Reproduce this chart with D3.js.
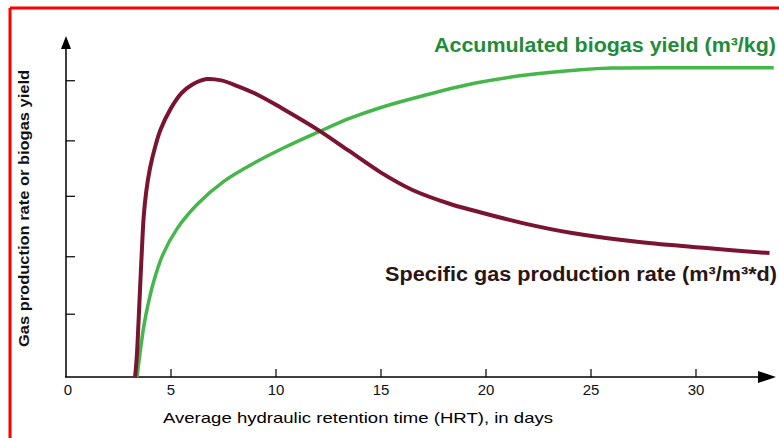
<!DOCTYPE html>
<html>
<head>
<meta charset="utf-8">
<script src="https://cdn.jsdelivr.net/npm/d3@7"></script>
<style>
  body { margin: 0; background: #fff; }
  svg { display: block; font-family: "Liberation Sans", Arial, sans-serif; }
</style>
</head>
<body>
<svg id="chart"></svg>
<script>
// Values (x in days, y in arbitrary units 0..10)
const xTicks = [0, 5, 10, 15, 20, 25, 30];
const yTicks = [1.88, 3.6, 5.41, 7.07, 8.87];

const rateDays = [3.29, 3.37, 3.45, 3.53, 3.61, 3.7, 3.82, 4.0, 4.25, 4.5, 5.0, 5.5, 6.0, 6.7, 7.4, 8.2, 9.1, 10.3, 12, 13.5, 15, 16.5, 18.3, 19.5, 21.8, 24.1, 27.3, 30.5, 33.5];
const rateValues = [0, 0.6, 1.6, 2.7, 3.75, 4.8, 5.55, 6.25, 6.9, 7.4, 8.05, 8.5, 8.75, 8.92, 8.88, 8.7, 8.46, 8.04, 7.4, 6.76, 6.12, 5.6, 5.18, 4.97, 4.6, 4.31, 4.04, 3.86, 3.71];

const yieldDays = [3.38, 3.5, 3.7, 3.9, 4.15, 4.6, 5.3, 6.3, 7.5, 9, 10.5, 12, 13.5, 15, 17, 19.5, 22, 24.5, 26, 30, 33.7];
const yieldValues = [0, 0.6, 1.5, 2.15, 2.8, 3.65, 4.45, 5.2, 5.85, 6.42, 6.9, 7.33, 7.74, 8.07, 8.42, 8.8, 9.05, 9.2, 9.25, 9.26, 9.26];

const width = 779;
const height = 438;

const svg = d3.select("#chart")
    .attr("width", width)
    .attr("height", height);

// red frame, only top and left edges show
svg.append("line").attr("x1", 10).attr("y1", 8).attr("x2", width).attr("y2", 8)
    .attr("stroke", "#ff0000").attr("stroke-width", 3);
svg.append("line").attr("x1", 10).attr("y1", 8).attr("x2", 10).attr("y2", height)
    .attr("stroke", "#ff0000").attr("stroke-width", 3);

const x = d3.scaleLinear().domain([0, 30]).range([66, 696]);
const y = d3.scaleLinear().domain([0, 10]).range([377, 43]);

// axes lines + arrows
svg.append("line").attr("x1", 66).attr("y1", 377).attr("x2", 66).attr("y2", 46)
    .attr("stroke", "#000").attr("stroke-width", 1.5);
svg.append("line").attr("x1", 65).attr("y1", 377).attr("x2", 760).attr("y2", 377)
    .attr("stroke", "#000").attr("stroke-width", 1.5);
svg.append("path").attr("d", "M66,36 L71,49 L61,49 Z").attr("fill", "#000");
svg.append("path").attr("d", "M776,377 L758,371 L758,383 Z").attr("fill", "#000");

// x ticks (pointing up) and labels
svg.append("g").selectAll("line")
    .data(xTicks.slice(1))
    .enter().append("line")
    .attr("x1", d => x(d)).attr("x2", d => x(d))
    .attr("y1", 377).attr("y2", 369)
    .attr("stroke", "#000").attr("stroke-width", 1.2);
svg.append("g").selectAll("text")
    .data(xTicks)
    .enter().append("text")
    .attr("x", d => x(d) + (d === 0 ? 2 : 0))
    .attr("y", 395)
    .attr("text-anchor", "middle")
    .attr("font-size", 15)
    .attr("fill", "#111")
    .text(d => d);

// y ticks (pointing right)
svg.append("g").selectAll("line")
    .data(yTicks)
    .enter().append("line")
    .attr("x1", 66).attr("x2", 75)
    .attr("y1", d => y(d)).attr("y2", d => y(d))
    .attr("stroke", "#000").attr("stroke-width", 1.2);

// axis titles
svg.append("text")
    .attr("x", 163).attr("y", 423)
    .attr("font-size", 15)
    .attr("fill", "#000")
    .attr("textLength", 390).attr("lengthAdjust", "spacingAndGlyphs")
    .text("Average hydraulic retention time (HRT), in days");

svg.append("text")
    .attr("transform", "translate(29,347) rotate(-90)")
    .attr("font-size", 15)
    .attr("font-weight", "bold")
    .attr("fill", "#111")
    .attr("textLength", 277).attr("lengthAdjust", "spacingAndGlyphs")
    .text("Gas production rate or biogas yield");

// curves
const line = d3.line()
    .x(d => x(d[0]))
    .y(d => y(d[1]))
    .curve(d3.curveCatmullRom.alpha(0.5));

svg.append("path")
    .datum(d3.zip(yieldDays, yieldValues))
    .attr("d", line)
    .attr("fill", "none")
    .attr("stroke", "#45b649")
    .attr("stroke-width", 3.5);

svg.append("path")
    .datum(d3.zip(rateDays, rateValues))
    .attr("d", line)
    .attr("fill", "none")
    .attr("stroke", "#7a1430")
    .attr("stroke-width", 4);

// series labels
svg.append("text")
    .attr("x", 434).attr("y", 52)
    .attr("font-size", 21)
    .attr("font-weight", "bold")
    .attr("fill", "#1f8c3b")
    .attr("textLength", 342).attr("lengthAdjust", "spacingAndGlyphs")
    .text("Accumulated biogas yield (m³/kg)");

svg.append("text")
    .attr("x", 385).attr("y", 281)
    .attr("font-size", 20)
    .attr("font-weight", "bold")
    .attr("fill", "#2a1414")
    .attr("textLength", 392).attr("lengthAdjust", "spacingAndGlyphs")
    .text("Specific gas production rate (m³/m³*d)");
</script>
</body>
</html>
